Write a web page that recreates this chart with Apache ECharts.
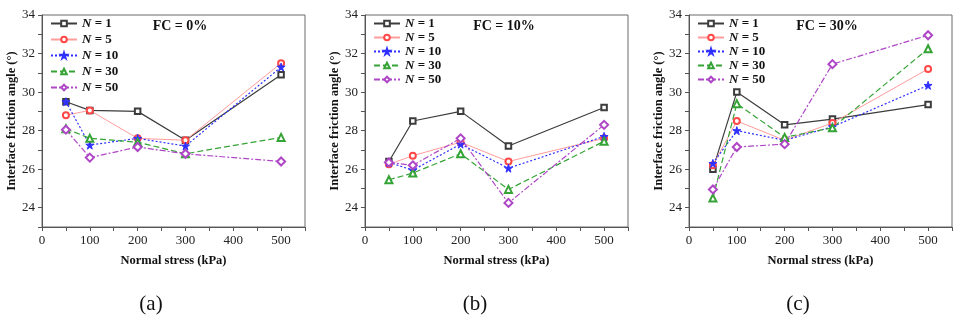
<!DOCTYPE html>
<html>
<head>
<meta charset="utf-8">
<script src="https://cdn.jsdelivr.net/npm/echarts@6/dist/echarts.min.js"></script>
<style>
  html, body { margin: 0; padding: 0; background: #fff; }
  #chart { width: 968px; height: 321px; }
</style>
</head>
<body>
<div id="chart"></div>
<script>
// Normal stress levels (kPa) shared by every panel
const stress = [50, 100, 200, 300, 500];
// Number of cycles for each curve
const cycles = [1, 5, 10, 30, 50];
const fcLabels = ['FC = 0%', 'FC = 10%', 'FC = 30%'];
const panelTags = ['(a)', '(b)', '(c)'];
const xTicks = [0, 100, 200, 300, 400, 500];
const yTicks = [24, 26, 28, 30, 32, 34];

// Interface friction angle (°), one row per cycle count (N = 1, 5, 10, 30, 50)
const fc0 = [
  [29.5, 29.05, 29.0, 27.5, 30.9],
  [28.8, 29.05, 27.6, 27.5, 31.5],
  [29.5, 27.25, 27.6, 27.2, 31.3],
  [28.1, 27.6, 27.4, 26.8, 27.65],
  [28.05, 26.6, 27.15, 26.8, 26.4]
];
const fc10 = [
  [26.4, 28.5, 29.0, 27.2, 29.2],
  [26.25, 26.7, 27.4, 26.4, 27.6],
  [26.35, 25.95, 27.3, 26.05, 27.7],
  [25.45, 25.8, 26.8, 24.95, 27.45],
  [26.35, 26.2, 27.6, 24.25, 28.3]
];
const fc30 = [
  [26.0, 30.0, 28.3, 28.6, 29.35],
  [26.2, 28.5, 27.5, 28.4, 31.2],
  [26.3, 28.0, 27.5, 28.2, 30.35],
  [24.5, 29.4, 27.65, 28.15, 32.25],
  [24.95, 27.15, 27.3, 31.45, 32.95]
];
const panels = [fc0, fc10, fc30];

const SERIF = '"Liberation Serif", "Times New Roman", serif';
const STAR = 'path://M50,0 L61,35 L98,35 L68,57 L79,91 L50,70 L21,91 L32,57 L2,35 L39,35 Z';

// Per-curve look: colour, line dash, marker
const styles = [
  { line: '#3c3c3c', mark: '#3c3c3c', type: 'solid', symbol: 'emptyRect', size: 5.5, width: 1.2 },
  { line: '#ff9c9c', mark: '#ff4848', type: 'solid', symbol: 'emptyCircle', size: 6, width: 1 },
  { line: '#2f2fff', mark: '#2f2fff', type: [2, 2], symbol: STAR, size: 8, width: 1.2 },
  { line: '#36a336', mark: '#36a336', type: [6, 3], symbol: 'emptyTriangle', size: 7, width: 1.2 },
  { line: '#ae46c6', mark: '#ae46c6', type: [6, 2, 2, 2], symbol: 'emptyDiamond', size: 8, width: 1.2 }
];

const names = cycles.map(n => 'N = ' + n);
const gridLefts = [42, 365, 689];
const plotW = 263, plotTop = 15, plotH = 212;
const legendGaps = [3, 1, 1];
const fcCenters = [180, 504, 827];
const tagCenters = [151, 475, 798];

const grid = [], xAxis = [], yAxis = [], series = [], legend = [], graphic = [];

panels.forEach((rows, p) => {
  grid.push({
    left: gridLefts[p], top: plotTop, width: plotW, height: plotH,
    show: true, borderColor: '#6a6a6a', borderWidth: 1, backgroundColor: 'transparent'
  });
  xAxis.push({
    type: 'value', gridIndex: p, min: 0, max: 550, interval: 50,
    name: 'Normal stress (kPa)', nameLocation: 'middle', nameGap: 27,
    nameTextStyle: { fontFamily: SERIF, fontWeight: 'bold', fontSize: 12.5, color: '#111' },
    axisLine: { show: true, lineStyle: { color: '#555', width: 1 } },
    axisTick: { show: true, inside: false, length: 4, lineStyle: { color: '#555' } },
    axisLabel: {
      margin: 7, fontFamily: SERIF, fontSize: 13, color: '#222',
      formatter: v => (xTicks.indexOf(v) >= 0 ? String(v) : '')
    },
    splitLine: { show: false }
  });
  yAxis.push({
    type: 'value', gridIndex: p, min: 23, max: 34, interval: 1,
    name: 'Interface friction angle (°)', nameLocation: 'middle', nameGap: 20,
    nameTextStyle: { fontFamily: SERIF, fontWeight: 'bold', fontSize: 12.5, color: '#111' },
    axisLine: { show: true, lineStyle: { color: '#555', width: 1 } },
    axisTick: { show: true, inside: false, length: 4, lineStyle: { color: '#555' } },
    axisLabel: {
      margin: 7, fontFamily: SERIF, fontSize: 13, color: '#222',
      formatter: v => (yTicks.indexOf(v) >= 0 ? String(v) : '')
    },
    splitLine: { show: false }
  });
  rows.forEach((vals, k) => {
    const s = styles[k];
    series.push({
      type: 'line', name: names[k], xAxisIndex: p, yAxisIndex: p,
      data: stress.map((x, i) => [x, vals[i]]),
      symbol: s.symbol, symbolSize: s.size, showAllSymbol: true,
      lineStyle: { color: s.line, width: s.width, type: s.type },
      itemStyle: { color: s.mark, borderColor: s.mark, borderWidth: 1 },
      emphasis: { disabled: true },
      animation: false
    });
  });
  legend.push({
    orient: 'vertical', left: gridLefts[p] + 8, top: 17, padding: 0,
    itemWidth: 26, itemHeight: 7, itemGap: legendGaps[p],
    data: names, selectedMode: false,
    formatter: name => '{i|N}' + name.slice(1),
    textStyle: {
      fontFamily: SERIF, fontWeight: 'bold', fontSize: 13, color: '#111', lineHeight: 12,
      rich: { i: { fontFamily: SERIF, fontStyle: 'italic', fontWeight: 'bold', fontSize: 13, color: '#111' } }
    }
  });
  graphic.push({
    type: 'text', x: fcCenters[p], y: 26,
    style: { text: fcLabels[p], font: 'bold 14px ' + SERIF, fill: '#111', textAlign: 'center', textVerticalAlign: 'middle' }
  });
  graphic.push({
    type: 'text', x: tagCenters[p], y: 304,
    style: { text: panelTags[p], font: '21px ' + SERIF, fill: '#111', textAlign: 'center', textVerticalAlign: 'middle' }
  });
});

const chart = echarts.init(document.getElementById('chart'), null, { renderer: 'canvas' });
chart.setOption({
  backgroundColor: '#fff',
  animation: false,
  grid, xAxis, yAxis, series, legend, graphic
});
</script>
</body>
</html>
